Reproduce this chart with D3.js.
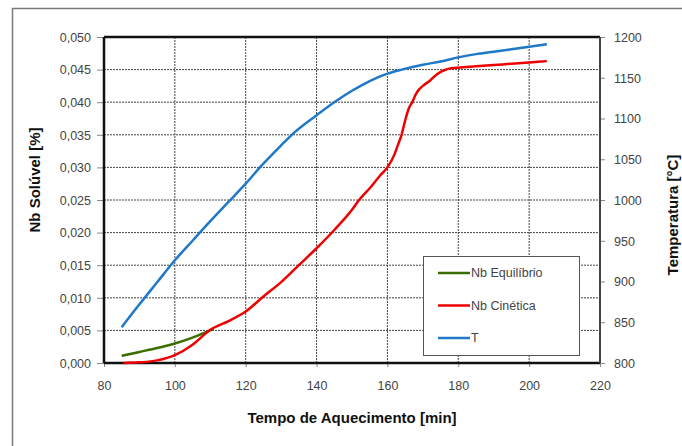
<!DOCTYPE html>
<html><head><meta charset="utf-8">
<script src="https://cdn.jsdelivr.net/npm/d3@7"></script>
<style>body{margin:0;background:#fff}svg{display:block;font-family:"Liberation Sans",Arial,sans-serif}</style>
</head><body><svg id="c" width="682" height="446"></svg>
<script>
const xTicks=[80,100,120,140,160,180,200,220];
const yLeftTicks=[0,0.005,0.010,0.015,0.020,0.025,0.030,0.035,0.040,0.045,0.050];
const yRightTicks=[800,850,900,950,1000,1050,1100,1150,1200];
const tempoT=[85,90,95,100,105,110,115,120,124,130,133,140,145,150,155,160,164,170,175,180,185,190,195,200,205];
const valT=[844,872,899,926,950,974,997,1020,1040,1067,1080,1104,1120,1134,1146,1155,1160,1166,1170,1175,1179,1182,1185,1188,1191];
const tempoCin=[85.5,90,95,100,105,110,115,120,125,130,135,140,145,150,152,155,158,160,162,163,164,165,166,167,168,169,170,172,174,176,178,180,185,190,195,200,205];
const valCin=[0,0.0001,0.0004,0.0012,0.0028,0.0051,0.0064,0.0079,0.0102,0.0124,0.0150,0.0176,0.0204,0.0235,0.025,0.0268,0.0288,0.030,0.032,0.0335,0.035,0.0372,0.039,0.040,0.0412,0.042,0.0425,0.0433,0.0443,0.0449,0.0452,0.0453,0.0455,0.0457,0.0459,0.0461,0.0463];
const tempoEq=[85,90,95,100,105,110,111];
const valEq=[0.0011,0.0017,0.0023,0.0030,0.0039,0.0050,0.0052];
const legendNames=["Nb Equilíbrio","Nb Cinética","T"];
const colors=["#3a6e00","#ee0000","#1f78c8"];

const svg=d3.select("#c");
const L=104,R=600,T=37,B=363;
const x=d3.scaleLinear().domain([80,220]).range([L,R]);
const yl=d3.scaleLinear().domain([0,0.05]).range([B,T]);
const yr=d3.scaleLinear().domain([800,1200]).range([B,T]);

// outer frame
svg.append("path").attr("d","M12.5,446 V8.5 H682").attr("fill","none").attr("stroke","#7a7a7a").attr("stroke-width",1.5);

// grid
const g=svg.append("g");
g.selectAll(".gx").data(xTicks.slice(1,-1)).join("line")
 .attr("x1",d=>x(d)).attr("x2",d=>x(d)).attr("y1",T).attr("y2",B)
 .attr("stroke","#444").attr("stroke-width",1).attr("stroke-dasharray","2,1");
g.selectAll(".gy").data(yLeftTicks.slice(1,-1)).join("line")
 .attr("x1",L).attr("x2",R).attr("y1",d=>yl(d)).attr("y2",d=>yl(d))
 .attr("stroke","#444").attr("stroke-width",1).attr("stroke-dasharray","2,1");

// axes
const fmt=d=>d3.format(".3f")(d).replace(".",",");
const ax=svg.append("g").attr("transform",`translate(0,${B})`).call(d3.axisBottom(x).tickValues(xTicks).tickSize(4).tickSizeOuter(0));
const ayl=svg.append("g").attr("transform",`translate(${L},0)`).call(d3.axisLeft(yl).tickValues(yLeftTicks).tickFormat(fmt).tickSize(7).tickSizeOuter(0));
const ayr=svg.append("g").attr("transform",`translate(${R},0)`).call(d3.axisRight(yr).tickValues(yRightTicks).tickFormat(d3.format("d")).tickSize(5).tickSizeOuter(0));
[ax,ayl,ayr].forEach(a=>{a.select(".domain").remove();a.selectAll("line").attr("stroke","#888");
 a.selectAll("text").attr("fill","#444").style("font-size","12.5px").style("font-family","'Liberation Sans',Arial,sans-serif");});
ax.selectAll("text").attr("dy","1.6em");
ayl.selectAll("text").attr("x",-13).attr("dy","0.35em");
ayr.selectAll("text").attr("x",14).attr("dy","0.35em");

// plot border
svg.append("line").attr("x1",L).attr("x2",R).attr("y1",T).attr("y2",T).attr("stroke","#111").attr("stroke-width",2.5);
svg.append("line").attr("x1",L).attr("x2",R).attr("y1",B).attr("y2",B).attr("stroke","#111").attr("stroke-width",2.5);
svg.append("line").attr("x1",L).attr("x2",L).attr("y1",T).attr("y2",B).attr("stroke","#111").attr("stroke-width",2.5);
svg.append("line").attr("x1",R).attr("x2",R).attr("y1",T).attr("y2",B).attr("stroke","#444").attr("stroke-width",2);

// lines
const lineL=d3.line().x(d=>x(d[0])).y(d=>yl(d[1])).curve(d3.curveMonotoneX);
const lineR=d3.line().x(d=>x(d[0])).y(d=>yr(d[1])).curve(d3.curveMonotoneX);
svg.append("path").datum(d3.zip(tempoT,valT)).attr("d",lineR).attr("fill","none").attr("stroke",colors[2]).attr("stroke-width",2.5);
svg.append("path").datum(d3.zip(tempoEq,valEq)).attr("d",lineL).attr("fill","none").attr("stroke",colors[0]).attr("stroke-width",2.5);
svg.append("path").datum(d3.zip(tempoCin,valCin)).attr("d",lineL).attr("fill","none").attr("stroke",colors[1]).attr("stroke-width",2.5);

// legend
const lg=svg.append("g");
lg.append("rect").attr("x",423.5).attr("y",256.5).attr("width",156).attr("height",99).attr("fill","#fff").attr("stroke","#555").attr("stroke-width",1);
legendNames.forEach((n,i)=>{
 const yy=273+i*32.5;
 lg.append("line").attr("x1",438).attr("x2",470).attr("y1",yy).attr("y2",yy).attr("stroke",colors[i]).attr("stroke-width",2.5);
 lg.append("text").attr("x",471).attr("y",yy).attr("dy","0.35em").attr("fill","#444").style("font-size","12.5px").text(n);
});

// titles
svg.append("text").attr("x",352).attr("y",423).attr("text-anchor","middle").style("font-weight","bold").style("font-size","15px").attr("fill","#111").text("Tempo de Aquecimento [min]");
svg.append("text").attr("transform","translate(40,180) rotate(-90)").attr("text-anchor","middle").style("font-weight","bold").style("font-size","15px").attr("fill","#111").text("Nb Solúvel [%]");
svg.append("text").attr("transform","translate(678,215) rotate(-90)").attr("text-anchor","middle").style("font-weight","bold").style("font-size","15px").attr("fill","#111").text("Temperatura [°C]");
</script></body></html>
